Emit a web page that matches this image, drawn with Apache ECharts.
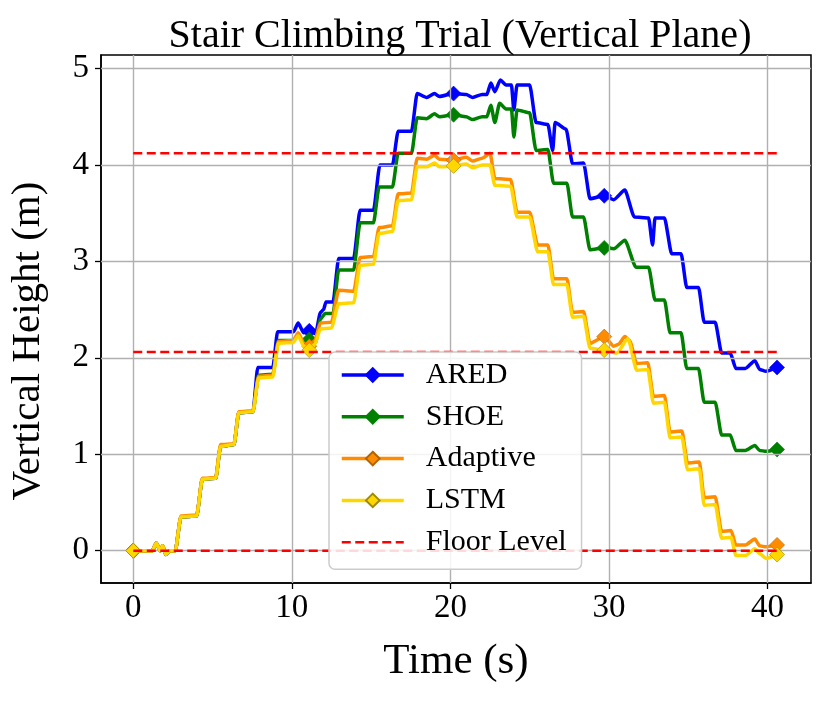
<!DOCTYPE html>
<html>
<head>
<meta charset="utf-8">
<script src="https://cdn.jsdelivr.net/npm/echarts@6/dist/echarts.min.js"></script>
<style>
html,body{margin:0;padding:0;background:#fff;}
#chart{width:830px;height:703px;}
</style>
</head>
<body>
<div id="chart"></div>
<script>
// ---- Data (time s, vertical height m) ----
const seriesNames = ['ARED', 'SHOE', 'Adaptive', 'LSTM'];
const xTicks = [0, 10, 20, 30, 40];
const yTicks = [0, 1, 2, 3, 4, 5];
const floorLevels = [0, 2.06, 4.12];
const floorSpan = [0, 40.6];
const markerTimes = [0, 11.1, 20.2, 29.7, 40.6];

const aredData = [[0,0],[1.2,0],[1.45,0.08],[1.7,0.0],[1.85,0.05],[2.05,-0.04],[2.3,0],[2.65,0],[3.0,0.35],[4.0,0.36],[4.35,0.74],[5.2,0.75],[5.5,1.08],[6.35,1.10],[6.65,1.43],[7.55,1.44],[7.85,1.90],[8.8,1.90],[9.1,2.27],[10.1,2.27],[10.4,2.36],[10.75,2.26],[11.1,2.28],[11.5,2.25],[11.8,2.47],[12.0,2.50],[12.15,2.58],[12.6,2.58],[12.95,3.03],[13.9,3.03],[14.3,3.53],[15.15,3.53],[15.55,4.00],[16.35,4.00],[16.7,4.35],[17.55,4.35],[17.9,4.74],[18.5,4.70],[19.0,4.74],[19.3,4.71],[20.2,4.74],[21.0,4.73],[21.4,4.70],[22.0,4.73],[22.3,4.73],[22.55,4.85],[22.8,4.76],[23.15,4.88],[23.5,4.83],[23.85,4.83],[24.0,4.57],[24.2,4.83],[25.0,4.83],[25.4,4.44],[26.15,4.42],[26.45,4.15],[26.6,4.44],[27.3,4.37],[27.7,4.01],[28.4,4.02],[28.8,3.65],[29.7,3.68],[30.3,3.64],[31.0,3.74],[31.6,3.46],[32.5,3.45],[32.75,3.17],[32.9,3.45],[33.5,3.45],[33.95,3.08],[34.55,3.08],[34.9,2.73],[35.65,2.73],[36.0,2.37],[36.7,2.37],[37.1,2.05],[37.65,2.05],[38.0,1.89],[38.6,1.89],[39.2,1.97],[39.5,1.88],[39.9,1.86],[40.6,1.90]];

const shoeData = [[0,0],[1.2,0],[1.45,0.08],[1.7,0.0],[1.85,0.05],[2.05,-0.04],[2.3,0],[2.65,0],[3.0,0.35],[4.0,0.36],[4.35,0.74],[5.2,0.75],[5.5,1.08],[6.35,1.10],[6.65,1.43],[7.55,1.44],[7.9,1.82],[8.8,1.83],[9.15,2.18],[10.1,2.18],[10.4,2.24],[10.75,2.15],[11.1,2.19],[11.5,2.16],[11.8,2.40],[12.1,2.46],[12.6,2.46],[12.95,2.91],[13.9,2.91],[14.3,3.40],[15.15,3.40],[15.5,3.77],[16.35,3.77],[16.7,4.12],[17.55,4.12],[17.9,4.49],[18.5,4.48],[19.0,4.53],[19.3,4.50],[20.2,4.52],[21.0,4.50],[21.4,4.47],[22.0,4.50],[22.3,4.50],[22.55,4.62],[22.8,4.44],[23.1,4.64],[23.5,4.58],[23.85,4.58],[24.0,4.29],[24.2,4.57],[25.0,4.54],[25.4,4.15],[26.15,4.16],[26.5,3.81],[27.35,3.81],[27.7,3.46],[28.4,3.46],[28.8,3.12],[29.7,3.14],[30.3,3.13],[31.0,3.22],[31.7,2.94],[32.5,2.94],[32.9,2.60],[33.5,2.60],[33.85,2.26],[34.55,2.26],[34.9,1.89],[35.65,1.89],[36.0,1.54],[36.7,1.54],[37.1,1.20],[37.65,1.20],[38.0,1.04],[38.6,1.04],[39.2,1.09],[39.5,1.04],[39.9,1.03],[40.6,1.05]];

const adaptiveData = [[0,0],[1.2,0],[1.45,0.08],[1.7,0.0],[1.85,0.05],[2.05,-0.03],[2.3,0],[2.65,0],[3.0,0.36],[4.0,0.37],[4.35,0.75],[5.2,0.76],[5.5,1.10],[6.35,1.11],[6.65,1.44],[7.55,1.45],[7.9,1.81],[8.8,1.82],[9.15,2.17],[10.1,2.18],[10.4,2.26],[10.75,2.15],[11.1,2.12],[11.45,2.18],[11.8,2.36],[12.5,2.37],[12.95,2.70],[13.9,2.69],[14.3,3.04],[15.15,3.05],[15.5,3.35],[16.35,3.37],[16.7,3.70],[17.55,3.71],[17.9,4.07],[18.5,4.06],[19.0,4.10],[19.3,4.06],[20.2,4.05],[21.0,4.08],[21.4,4.04],[22.0,4.07],[22.5,4.12],[22.8,3.86],[23.8,3.85],[24.2,3.51],[25.0,3.51],[25.5,3.17],[26.15,3.17],[26.5,2.82],[27.35,2.82],[27.7,2.47],[28.4,2.48],[28.8,2.15],[29.7,2.22],[30.3,2.12],[30.6,2.14],[31.0,2.22],[31.3,2.18],[31.75,1.94],[32.45,1.95],[32.8,1.60],[33.5,1.61],[33.85,1.23],[34.6,1.24],[34.95,0.91],[35.7,0.92],[36.0,0.55],[36.7,0.56],[37.1,0.20],[37.7,0.21],[38.0,0.06],[38.6,0.06],[39.2,0.12],[39.5,0.05],[39.9,0.04],[40.6,0.06]];

const lstmData = [[0,0],[1.2,0],[1.45,0.08],[1.7,0.0],[1.85,0.05],[2.05,-0.04],[2.3,0],[2.65,0],[3.0,0.35],[4.0,0.36],[4.35,0.74],[5.2,0.75],[5.5,1.08],[6.35,1.10],[6.65,1.43],[7.55,1.44],[7.9,1.79],[8.8,1.80],[9.15,2.15],[10.1,2.16],[10.4,2.23],[10.75,2.12],[11.1,2.08],[11.45,2.14],[11.8,2.30],[12.5,2.31],[12.95,2.56],[13.9,2.57],[14.3,2.96],[15.15,2.97],[15.5,3.29],[16.35,3.31],[16.7,3.63],[17.55,3.64],[17.9,3.98],[18.5,3.98],[19.0,4.02],[19.3,3.98],[20.2,3.99],[21.0,4.01],[21.4,3.97],[22.0,4.00],[22.5,4.00],[22.8,3.79],[23.8,3.78],[24.2,3.46],[25.0,3.46],[25.5,3.10],[26.15,3.10],[26.5,2.76],[27.35,2.76],[27.7,2.42],[28.4,2.43],[28.8,2.10],[29.7,2.08],[30.5,2.05],[31.2,2.20],[31.75,1.87],[32.45,1.88],[32.8,1.53],[33.5,1.54],[33.85,1.17],[34.6,1.18],[34.95,0.84],[35.7,0.85],[36.0,0.47],[36.7,0.48],[37.1,0.13],[37.7,0.14],[38.0,-0.05],[38.6,-0.05],[39.2,0.02],[39.5,-0.03],[39.9,-0.08],[40.6,-0.04]];

const seriesData = [aredData, shoeData, adaptiveData, lstmData];
const seriesColors = ['#0000ff', '#008000', '#ff8c00', '#ffd700'];
const markerEdges = ['#0000ff', '#008000', '#b36200', '#a08a00'];

const FONT = '"Liberation Serif", "DejaVu Serif", serif';

const chart = echarts.init(document.getElementById('chart'), null, {renderer: 'canvas'});

const series = [];
// grid lines drawn through the axes' scales
series.push({
  type: 'line', name: '_grid', data: [], silent: true, z: 0,
  markLine: {
    silent: true, symbol: 'none', label: {show: false},
    lineStyle: {color: '#b0b0b0', width: 1.4, type: 'solid'},
    data: xTicks.map(v => ({xAxis: v})).concat(yTicks.map(v => ({yAxis: v})))
  }
});
seriesNames.forEach((name, i) => {
  series.push({
    type: 'line', name: name, data: seriesData[i], z: 2 + i,
    smooth: 0.2, smoothMonotone: 'x',
    showSymbol: true, symbol: 'diamond',
    symbolSize: function (val) {
      return markerTimes.indexOf(val[0]) >= 0 ? 15 : 0;
    },
    itemStyle: {color: seriesColors[i], borderColor: markerEdges[i], borderWidth: 0.6},
    lineStyle: {color: seriesColors[i], width: 3.5},
    animation: false, emphasis: {disabled: true}
  });
});
floorLevels.forEach(level => {
  series.push({
    type: 'line', name: 'Floor Level', z: 8,
    data: [[floorSpan[0], level], [floorSpan[1], level]],
    symbol: 'diamond', showSymbol: false, symbolSize: 0,
    itemStyle: {color: '#ff0000'},
    lineStyle: {color: '#ff0000', width: 2.5, type: [9, 4.5]},
    animation: false, emphasis: {disabled: true}
  });
});

chart.setOption({
  animation: false,
  backgroundColor: '#ffffff',
  title: {
    text: 'Stair Climbing Trial (Vertical Plane)',
    left: 455, top: 11, textAlign: 'center',
    textStyle: {fontFamily: FONT, fontSize: 40, fontWeight: 'normal', color: '#000'}
  },
  grid: {
    left: 100, top: 55, right: 19, bottom: 120,
    show: true, borderColor: '#000', borderWidth: 1.5, backgroundColor: 'transparent'
  },
  legend: {
    z: 50,
    data: ['ARED', 'SHOE', 'Adaptive', 'LSTM',
      {name: 'Floor Level', itemStyle: {opacity: 0}, lineStyle: {width: 2.5}}],
    orient: 'vertical', left: 329, top: 352,
    padding: [8, 15, 12, 11],
    itemWidth: 62, itemHeight: 17, itemGap: 11.8,
    backgroundColor: 'rgba(255,255,255,0.85)',
    borderColor: '#cccccc', borderWidth: 1.5, borderRadius: 6,
    lineStyle: {width: 3.5},
    textStyle: {fontFamily: FONT, fontSize: 30, color: '#000', padding: [0, 0, 0, 17]},
    selectedMode: false
  },
  xAxis: {
    type: 'value', min: -2.035, max: 42.74,
    name: 'Time (s)', nameLocation: 'middle', nameGap: 57,
    nameTextStyle: {fontFamily: FONT, fontSize: 43, color: '#000'},
    axisLine: {show: true, onZero: false, lineStyle: {color: '#000', width: 1.5}},
    axisTick: {show: true, customValues: xTicks, length: 6, lineStyle: {color: '#000', width: 1.3}},
    axisLabel: {customValues: xTicks, fontFamily: FONT, fontSize: 33, color: '#000', margin: 9},
    splitLine: {show: false}
  },
  yAxis: {
    type: 'value', min: -0.335, max: 5.14,
    name: 'Vertical Height (m)', nameLocation: 'middle', nameGap: 52,
    nameTextStyle: {fontFamily: FONT, fontSize: 41, color: '#000', padding: [0, 44, 0, 0]},
    axisLine: {show: true, onZero: false, lineStyle: {color: '#000', width: 1.5}},
    axisTick: {show: true, customValues: yTicks, length: 6, lineStyle: {color: '#000', width: 1.3}},
    axisLabel: {customValues: yTicks, fontFamily: FONT, fontSize: 33, color: '#000', margin: 12},
    splitLine: {show: false}
  },
  series: series
});
</script>
</body>
</html>
